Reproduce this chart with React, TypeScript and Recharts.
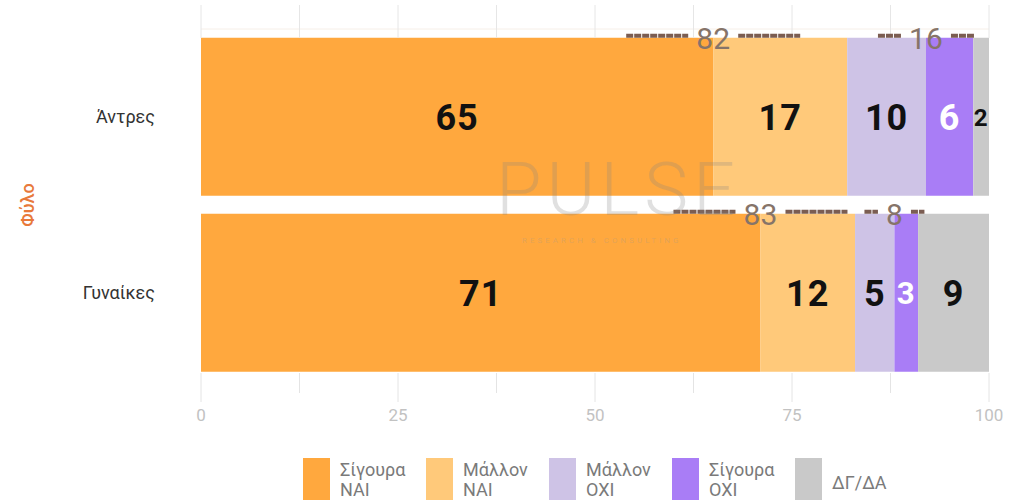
import React from 'react';
import { BarChart, Bar, XAxis, YAxis, LabelList } from 'recharts';

// ---------------------------------------------------------------------------
// Πρόθεση ψήφου ανά φύλο — stacked horizontal bars (Recharts)
// ---------------------------------------------------------------------------

const categories = ['Άντρες', 'Γυναίκες'];
const sureYes = [65, 71];
const maybeYes = [17, 12];
const maybeNo = [10, 5];
const sureNo = [6, 3];
const dkNa = [2, 9];

const axisTicks = [0, 12.5, 25, 37.5, 50, 62.5, 75, 87.5, 100];
const axisLabels = [0, 25, 50, 75, 100];

const FONT = "Roboto, 'Noto Sans', 'DejaVu Sans', sans-serif";

const series = [
  { key: 'sureYes', name: 'Σίγουρα\nΝΑΙ', color: '#FFA83E', text: '#111111' },
  { key: 'maybeYes', name: 'Μάλλον\nΝΑΙ', color: '#FFC97A', text: '#111111' },
  { key: 'maybeNo', name: 'Μάλλον\nΟΧΙ', color: '#CEC3E6', text: '#111111' },
  { key: 'sureNo', name: 'Σίγουρα\nΟΧΙ', color: '#A97DF6', text: '#FFFFFF' },
  { key: 'dkNa', name: 'ΔΓ/ΔΑ', color: '#C9C9C9', text: '#111111' },
];

const rows = categories.map((group, i) => ({
  group,
  sureYes: sureYes[i],
  maybeYes: maybeYes[i],
  maybeNo: maybeNo[i],
  sureNo: sureNo[i],
  dkNa: dkNa[i],
  yesTotal: sureYes[i] + maybeYes[i],
  noTotal: maybeNo[i] + sureNo[i],
}));

// half-length (px) of the bracket lines drawn above each bar
const bracketSpan = { yes: [87, 87], no: [48, 30] };

const ValueLabel = (color: string) => (props: any) => {
  const x = Number(props.x);
  const y = Number(props.y);
  const w = Number(props.width);
  const h = Number(props.height);
  const fs = Math.min(36, 10 + w * 0.9);
  return (
    <text
      x={x + w / 2}
      y={y + h / 2}
      dy="0.36em"
      textAnchor="middle"
      fontFamily={FONT}
      fontWeight={700}
      fontSize={fs}
      letterSpacing={1}
      fill={color}
    >
      {props.value}
    </text>
  );
};

// drawn from the last segment so it sits on top of every bar
const Brackets = (props: any) => {
  const x = Number(props.x);
  const y = Number(props.y);
  const w = Number(props.width);
  const r = rows[props.index];
  if (!r) return null;
  const before = r.sureYes + r.maybeYes + r.maybeNo + r.sureNo;
  const ppu = w / r.dkNa;
  const sx = (v: number) => x + (v - before) * ppu;
  const marks = [
    { at: sx(r.sureYes), value: r.yesTotal, span: bracketSpan.yes[props.index] },
    { at: sx(r.yesTotal + r.maybeNo), value: r.noTotal, span: bracketSpan.no[props.index] },
  ];
  const ly = y - 2;
  return (
    <g>
      {marks.map((m, i) => {
        const gap = String(m.value).length * 8.5 + 8;
        return (
          <g key={i}>
            <line x1={m.at - m.span} x2={m.at - gap} y1={ly} y2={ly} stroke="#7b5d52" strokeWidth={4} strokeDasharray="7 1" />
            <line x1={m.at + gap} x2={m.at + m.span} y1={ly} y2={ly} stroke="#7b5d52" strokeWidth={4} strokeDasharray="7 1" />
            <text x={m.at} y={ly + 2} dy="0.36em" textAnchor="middle" fontFamily={FONT} fontSize={30} fill="#867469">
              {m.value}
            </text>
          </g>
        );
      })}
    </g>
  );
};

const BottomTick = (props: any) => {
  const { x, y, payload } = props;
  const major = axisLabels.includes(payload.value);
  return (
    <g>
      <line x1={x} x2={x} y1={y - 8} y2={y + (major ? 21 : 12)} stroke="#e4e4e4" strokeWidth={1} />
      {major && (
        <text x={x} y={y + 34} dy="0.36em" textAnchor="middle" fontFamily={FONT} fontSize={17} fill="#c2c2c2">
          {payload.value}
        </text>
      )}
    </g>
  );
};

const TopTick = (props: any) => {
  const { x, y } = props;
  return <line x1={x} x2={x} y1={y - 24} y2={y + 9} stroke="#e6e6e6" strokeWidth={1} />;
};

const Legend = () => (
  <div
    style={{
      position: 'absolute',
      left: 303,
      top: 458,
      display: 'flex',
      fontFamily: FONT,
      fontSize: 18,
      color: '#7a7a7a',
      lineHeight: '20px',
    }}
  >
    {series.map((s) => (
      <div key={s.key} style={{ display: 'flex', width: 123, alignItems: 'flex-start' }}>
        <div style={{ width: 27, height: 60, background: s.color, marginRight: 10, flex: 'none' }} />
        <div style={{ whiteSpace: 'pre', paddingTop: s.name.includes('\n') ? 2 : 15 }}>{s.name}</div>
      </div>
    ))}
  </div>
);

export default function App() {
  return (
    <div style={{ position: 'absolute', left: 0, top: 0, width: 1011, height: 500, overflow: 'hidden', background: '#fff' }}>
      <BarChart
        width={1011}
        height={500}
        data={rows}
        layout="vertical"
        margin={{ top: 7, right: 22, bottom: 79, left: 0 }}
        barCategoryGap="5%"
      >
        <XAxis
          xAxisId="top"
          orientation="top"
          type="number"
          domain={[0, 100]}
          ticks={axisTicks}
          allowDataOverflow
          height={22}
          tickSize={0}
          tickMargin={0}
          tickLine={false}
          axisLine={{ stroke: '#f6efe8' }}
          tick={<TopTick />}
        />
        <XAxis
          type="number"
          domain={[0, 100]}
          ticks={axisTicks}
          height={40}
          tickSize={0}
          tickMargin={0}
          tickLine={false}
          axisLine={false}
          tick={<BottomTick />}
        />
        <YAxis
          type="category"
          dataKey="group"
          width={201}
          tickSize={0}
          tickMargin={46}
          tickLine={false}
          axisLine={false}
          tick={{ fill: '#333333', fontSize: 18, fontFamily: FONT }}
          label={{
            content: (p: any) => {
              const vb = p.viewBox || { x: 0, y: 29, height: 352 };
              const cx = vb.x + 28;
              const cy = vb.y + vb.height / 2;
              return (
                <text x={cx} y={cy} transform={`rotate(-90 ${cx} ${cy})`} textAnchor="middle" dy="0.36em" fontFamily={FONT} fontSize={18} fontWeight={500} fill="#E8793A">
                  Φύλο
                </text>
              );
            },
          }}
        />
        {series.map((s) => (
          <Bar key={s.key} dataKey={s.key} stackId="a" fill={s.color} isAnimationActive={false}>
            <LabelList dataKey={s.key} content={ValueLabel(s.text)} />
            {s.key === 'dkNa' && <LabelList dataKey="dkNa" content={Brackets} />}
          </Bar>
        ))}
      </BarChart>
      <div
        style={{
          position: 'absolute',
          left: 496,
          top: 150,
          fontFamily: FONT,
          fontWeight: 300,
          fontSize: 74,
          lineHeight: '80px',
          letterSpacing: 5,
          color: 'rgba(130,130,130,0.25)',
          pointerEvents: 'none',
        }}
      >
        PULSE
      </div>
      <div
        style={{
          position: 'absolute',
          left: 522,
          top: 236,
          fontFamily: FONT,
          fontSize: 8,
          lineHeight: '10px',
          letterSpacing: 3,
          color: 'rgba(150,150,150,0.3)',
          pointerEvents: 'none',
        }}
      >
        RESEARCH &amp; CONSULTING
      </div>
      <Legend />
    </div>
  );
}
